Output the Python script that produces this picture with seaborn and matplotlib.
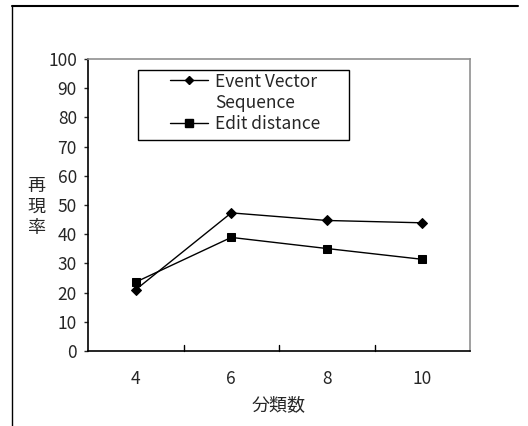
import matplotlib
matplotlib.use("Agg")
import matplotlib.pyplot as plt
from matplotlib.lines import Line2D
from matplotlib.patches import Rectangle
import seaborn as sns
import pandas as pd

categories = ["4", "6", "8", "10"]
event_vector = [21.0, 47.3, 44.7, 43.9]
edit_distance = [23.6, 38.9, 35.1, 31.4]
series_names = ["Event Vector Sequence", "Edit distance"]
legend_lines = ["Event Vector", "Sequence", "Edit distance"]
y_ticks = [0, 10, 20, 30, 40, 50, 60, 70, 80, 90, 100]

sns.set_style("white")
plt.rcParams['font.family'] = ['Noto Sans CJK JP', 'DejaVu Sans']

df = pd.DataFrame({
    "k": categories * 2,
    "v": event_vector + edit_distance,
    "s": [series_names[0]] * 4 + [series_names[1]] * 4,
})

W, H = 528, 426
fig = plt.figure(figsize=(W / 100, H / 100), dpi=100)
ax = fig.add_axes([88 / W, 1 - 351 / H, (470 - 88) / W, (351 - 59) / H])

sns.lineplot(data=df, x="k", y="v", hue="s", style="s",
             palette=["black", "black"], markers=["D", "s"], dashes=False,
             linewidth=1.0, ax=ax, sort=False, legend=False)
for ln, ms in zip(ax.lines, [5.5, 6.3]):
    ln.set_markersize(ms)
    ln.set_markeredgecolor("black")

ax.set_xlim(-0.5, 3.5)
ax.set_ylim(0, 100)
ax.set_yticks(y_ticks)
ax.set_xticks(range(len(categories)))
ax.set_xticklabels(categories)
ax.tick_params(axis="x", length=0, pad=14, labelsize=12.5)
ax.tick_params(axis="y", left=True, direction="out", length=3, width=1,
               pad=5, labelsize=12.5)
# category boundary ticks (inside, at bottom)
for b in [0.5, 1.5, 2.5]:
    ax.plot([b, b], [0, 2.2], color="black", lw=1, clip_on=False)

ax.set_xlabel("")
ax.set_ylabel("")
fig.text((88 + 470) / 2 / W, 1 - 405 / H, "分類数", fontsize=13,
         ha="center", va="center")
for ch, yy in zip("再現率", [186, 207, 228]):
    fig.text(36 / W, 1 - yy / H, ch, fontsize=13, ha="center", va="center")

for side in ["left", "bottom"]:
    ax.spines[side].set_color("black")
    ax.spines[side].set_linewidth(1.2)
for side in ["top", "right"]:
    ax.spines[side].set_color("#909090")
    ax.spines[side].set_linewidth(1.2)

# legend
handles = [Line2D([], [], color="black", lw=1, marker="D", markersize=4.5),
           Line2D([], [], color="none", lw=0),
           Line2D([], [], color="black", lw=1, marker="s", markersize=5.5)]
leg = ax.legend(handles, legend_lines, loc="center",
                bbox_to_anchor=((245 - 88) / 382, (351 - 103) / 292),
                frameon=False, fontsize=12.5, handlelength=2.2,
                labelspacing=0.2, handletextpad=0.4)
ax.add_patch(Rectangle(((138 - 88) / 382, (351 - 140) / 292),
                       (349 - 138) / 382, 70 / 292, transform=ax.transAxes,
                       fill=True, facecolor="white", edgecolor="black",
                       lw=1.0, zorder=4))
leg.set_zorder(5)

# outer frame lines of the figure
fig.add_artist(Line2D([12 / W, 518 / W], [1 - 6 / H, 1 - 6 / H],
                      transform=fig.transFigure, color="black", lw=1.5))
fig.add_artist(Line2D([12 / W, 12 / W], [1 - 6 / H, 0],
                      transform=fig.transFigure, color="black", lw=1.0))

fig.savefig("out.png", dpi=100)
